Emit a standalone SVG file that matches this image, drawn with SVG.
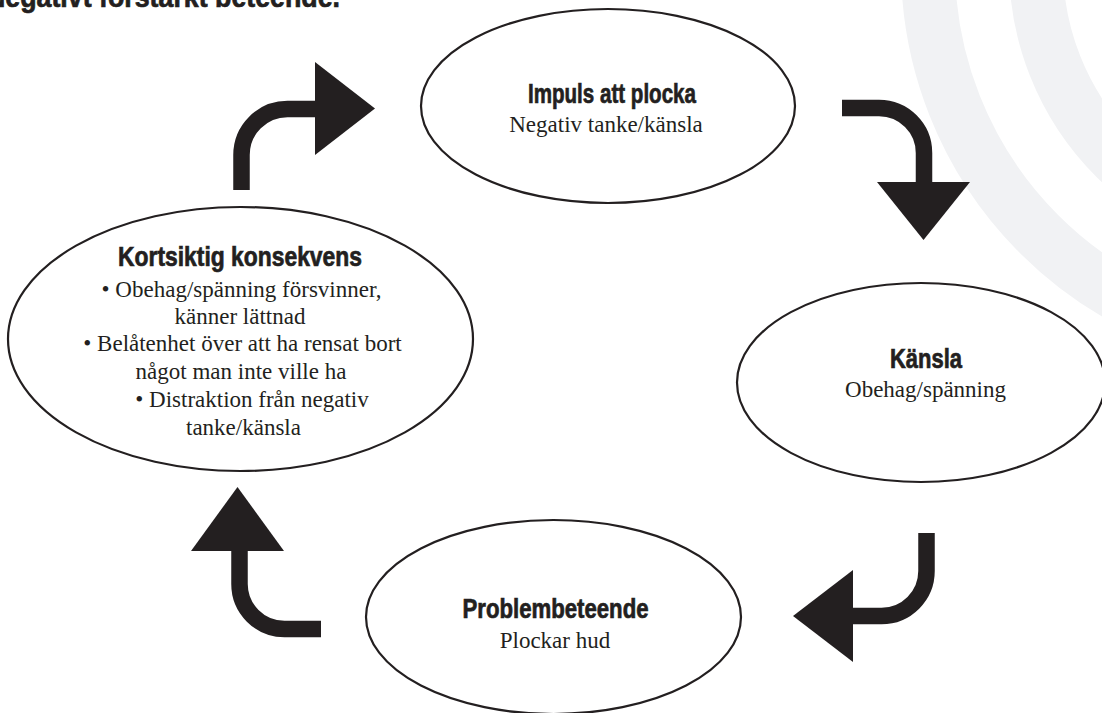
<svg xmlns="http://www.w3.org/2000/svg" width="1102" height="713" viewBox="0 0 1102 713">
<style>
.bg{fill:none;stroke:#f1f2f4;stroke-width:54}
.node{fill:#ffffff;stroke:#231f20;stroke-width:2.2}
.h{font-family:"Liberation Sans",Arial,sans-serif;font-weight:bold;font-size:27px;fill:#231f20;stroke:#231f20;stroke-width:0.7;text-anchor:middle}
.b{font-family:"Liberation Serif","Times New Roman",serif;font-size:23px;fill:#231f20;text-anchor:middle}
.shaft{fill:none;stroke:#231f20;stroke-width:16.5}
.head{fill:#231f20}
</style>
<rect width="1102" height="713" fill="#ffffff"/>
<g id="background">
<circle class="bg" cx="1307" cy="-34" r="379"/>
<circle class="bg" cx="1307" cy="-34" r="271"/>
</g>
<text id="title" x="-14" y="6.5" font-family="Liberation Sans, Arial, sans-serif" font-weight="bold" font-size="30" fill="#231f20" stroke="#231f20" stroke-width="0.7" textLength="354" lengthAdjust="spacingAndGlyphs">Negativt förstärkt beteende.</text>
<g id="connectors">
<path class="shaft" d="M241.5,190 V155 A46,46 0 0 1 287.5,109 H316"/>
<polygon class="head" points="315,62 375,108.5 315,155"/>
<path class="shaft" d="M842,108 H879 A45,45 0 0 1 924,153 V183"/>
<polygon class="head" points="877,182 970,182 923.5,240"/>
<path class="shaft" d="M926.5,533 V571 A45,45 0 0 1 881.5,616 H852"/>
<polygon class="head" points="853,570 853,662 793,616"/>
<path class="shaft" d="M321,629 H284.5 A45,45 0 0 1 239.5,584 V550"/>
<polygon class="head" points="191,551 284,551 237.5,487"/>
</g>
<g id="node-impuls">
<ellipse class="node" cx="608" cy="106" rx="187" ry="97"/>
<text class="h" x="612" y="103" textLength="168" lengthAdjust="spacingAndGlyphs">Impuls att plocka</text>
<text class="b" x="606" y="131.5">Negativ tanke/känsla</text>
</g>
<g id="node-kansla">
<ellipse class="node" cx="921" cy="382.5" rx="184" ry="99.5"/>
<text class="h" x="926" y="368" textLength="72" lengthAdjust="spacingAndGlyphs">Känsla</text>
<text class="b" x="925.5" y="396.5">Obehag/spänning</text>
</g>
<g id="node-problembeteende">
<ellipse class="node" cx="553.5" cy="617" rx="187.5" ry="97"/>
<text class="h" x="555.5" y="618" textLength="186" lengthAdjust="spacingAndGlyphs">Problembeteende</text>
<text class="b" x="555" y="648">Plockar hud</text>
</g>
<g id="node-kortsiktig">
<ellipse class="node" cx="240.5" cy="339" rx="232.5" ry="132"/>
<text class="h" x="240" y="266" textLength="244" lengthAdjust="spacingAndGlyphs">Kortsiktig konsekvens</text>
<text class="b" x="241.5" y="296.5">• Obehag/spänning försvinner,</text>
<text class="b" x="240" y="323.5">känner lättnad</text>
<text class="b" x="242.5" y="351">• Belåtenhet över att ha rensat bort</text>
<text class="b" x="241" y="378.5">något man inte ville ha</text>
<text class="b" x="252" y="406.5">• Distraktion från negativ</text>
<text class="b" x="243.5" y="435">tanke/känsla</text>
</g>
</svg>
